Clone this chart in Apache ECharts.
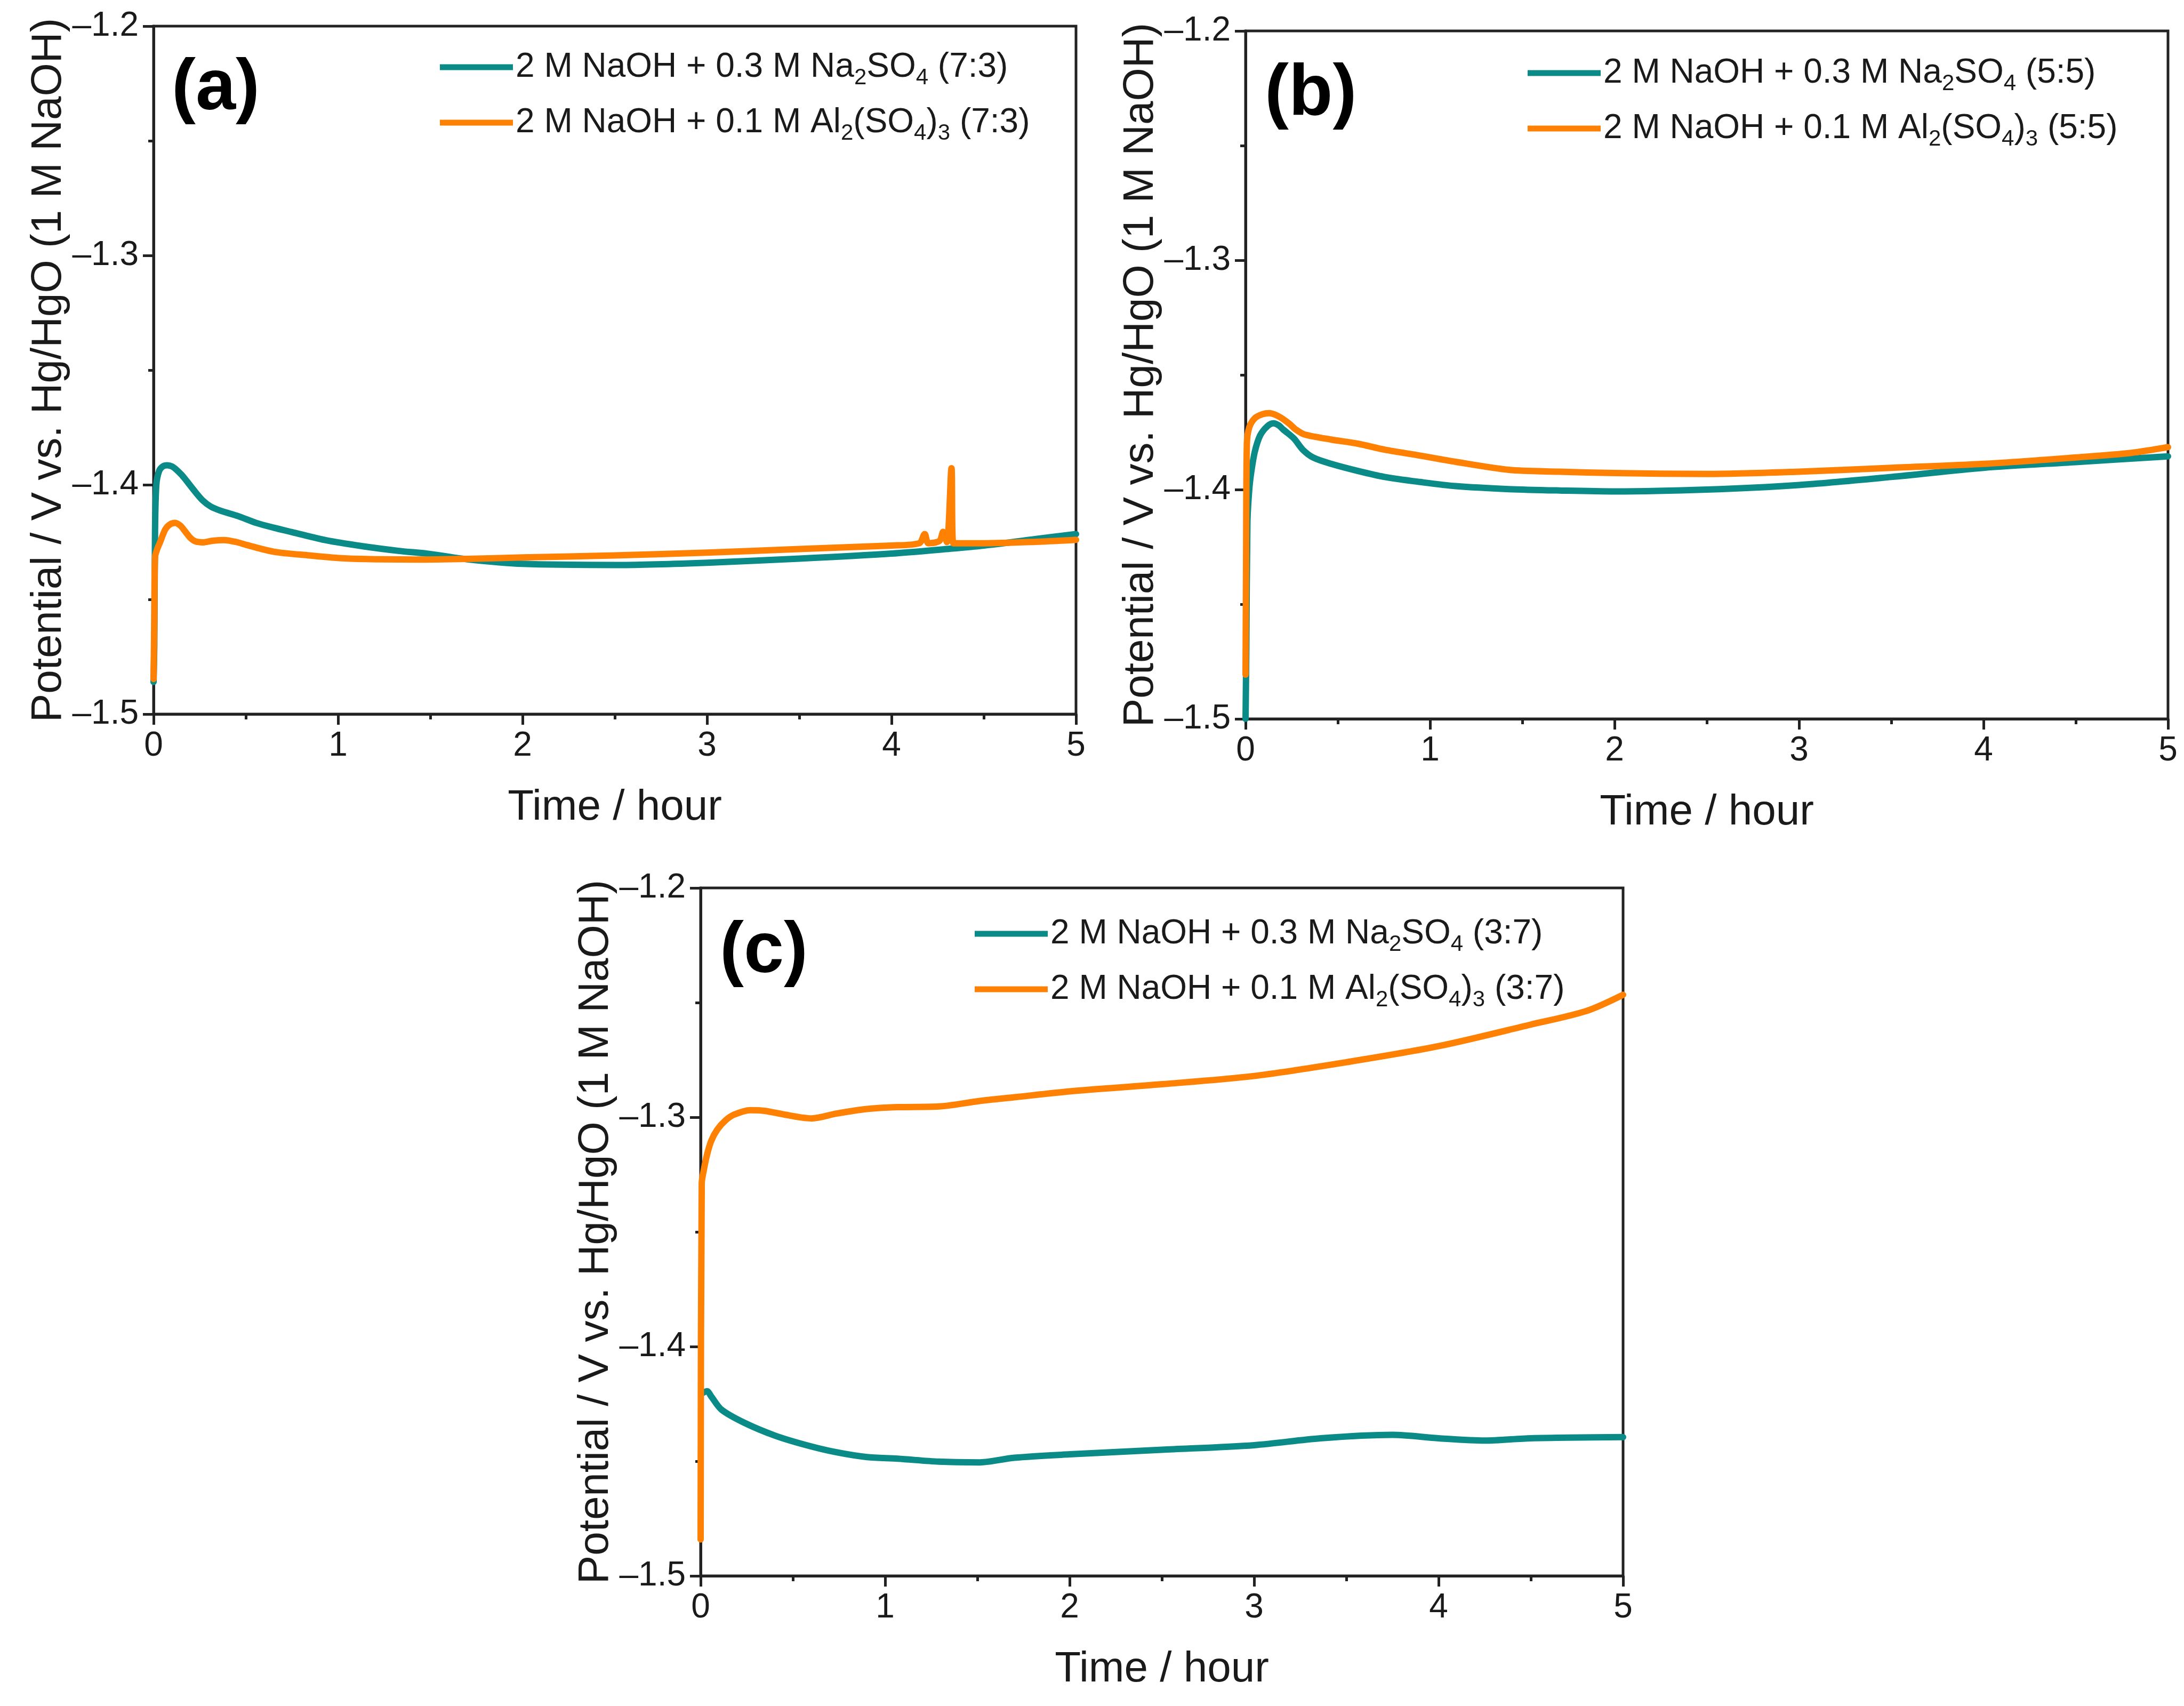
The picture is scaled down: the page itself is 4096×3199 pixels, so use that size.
<!DOCTYPE html>
<html>
<head>
<meta charset="utf-8">
<script src="https://cdn.jsdelivr.net/npm/echarts@6/dist/echarts.min.js"></script>
<style>
  html, body { margin: 0; padding: 0; background: #fff; }
  #chart { width: 4096px; height: 3199px; }
</style>
</head>
<body>
<div id="chart"></div>
<script>
// series names (subscripts are added by the legend formatter)
const namesA = ['2 M NaOH + 0.3 M Na2SO4 (7:3)', '2 M NaOH + 0.1 M Al2(SO4)3 (7:3)'];
const namesB = ['2 M NaOH + 0.3 M Na2SO4 (5:5)', '2 M NaOH + 0.1 M Al2(SO4)3 (5:5)'];
const namesC = ['2 M NaOH + 0.3 M Na2SO4 (3:7)', '2 M NaOH + 0.1 M Al2(SO4)3 (3:7)'];

// [time / hour, potential / V]
const naSO4_73 = [[0, -1.486], [0.004, -1.470], [0.008, -1.42], [0.015, -1.400], [0.03, -1.394], [0.05, -1.392],
  [0.075, -1.3915], [0.1, -1.392], [0.122, -1.3933], [0.15, -1.3955], [0.17, -1.3974], [0.218, -1.4023],
  [0.266, -1.4068], [0.31, -1.4095], [0.363, -1.4113], [0.459, -1.4137], [0.555, -1.4166], [0.65, -1.4187],
  [0.748, -1.4206], [0.94, -1.4243], [1.133, -1.4268], [1.326, -1.4288], [1.5, -1.4302], [1.7, -1.4325],
  [2.0, -1.4345], [2.5, -1.435], [3.0, -1.434], [3.5, -1.4322], [4.0, -1.430], [4.3, -1.428], [4.5, -1.4265],
  [4.8, -1.4235], [5.0, -1.4215]];
const alSO4_73 = [[0, -1.4847], [0.004, -1.46], [0.008, -1.4316], [0.02, -1.428], [0.035, -1.4251], [0.064, -1.4194],
  [0.09, -1.4172], [0.117, -1.4166], [0.145, -1.4178], [0.17, -1.4202], [0.2, -1.4232], [0.227, -1.4247],
  [0.266, -1.4251], [0.32, -1.4244], [0.382, -1.4241], [0.45, -1.425], [0.507, -1.4263], [0.652, -1.4292],
  [0.844, -1.4308], [1.036, -1.4321], [1.229, -1.4325], [1.42, -1.4326], [1.7, -1.4323], [2.0, -1.4317],
  [2.5, -1.4308], [3.0, -1.4296], [3.5, -1.428], [4.0, -1.4265], [4.15, -1.4255], [4.18, -1.4215], [4.2, -1.4255],
  [4.26, -1.4245], [4.28, -1.4205], [4.3, -1.425], [4.325, -1.3928], [4.335, -1.4255], [4.5, -1.4255],
  [4.8, -1.4248], [5.0, -1.424]];

const naSO4_55 = [[0, -1.5], [0.004, -1.47], [0.01, -1.4144], [0.02, -1.400], [0.031, -1.3923], [0.05, -1.3835],
  [0.079, -1.3764], [0.118, -1.3724], [0.151, -1.3711], [0.18, -1.372], [0.204, -1.3738], [0.262, -1.3777],
  [0.31, -1.3826], [0.368, -1.3861], [0.464, -1.3888], [0.609, -1.3919], [0.753, -1.3945], [0.946, -1.3967],
  [1.139, -1.3985], [1.428, -1.3998], [1.7, -1.4004], [2.0, -1.4008], [2.5, -1.400], [3.0, -1.398],
  [3.5, -1.3945], [4.0, -1.3905], [4.5, -1.388], [5.0, -1.3855]];
const alSO4_55 = [[0, -1.4807], [0.003, -1.43], [0.007, -1.38], [0.02, -1.3729], [0.05, -1.3689], [0.09, -1.3672],
  [0.127, -1.3667], [0.165, -1.3675], [0.204, -1.3693], [0.24, -1.3715], [0.272, -1.3738], [0.32, -1.376],
  [0.464, -1.3782], [0.609, -1.380], [0.753, -1.3826], [0.946, -1.3852], [1.139, -1.3879], [1.428, -1.3914],
  [1.7, -1.3922], [2.0, -1.3928], [2.5, -1.3932], [3.0, -1.3922], [3.5, -1.3905], [4.0, -1.3888],
  [4.5, -1.386], [4.8, -1.384], [5.0, -1.3815]];

const naSO4_37 = [[0.012, -1.4202], [0.035, -1.4195], [0.058, -1.4218], [0.113, -1.4275], [0.236, -1.4332],
  [0.402, -1.4388], [0.569, -1.4429], [0.736, -1.4461], [0.902, -1.4482], [1.069, -1.4489], [1.291, -1.4502],
  [1.513, -1.4505], [1.7, -1.4485], [2.0, -1.447], [2.5, -1.445], [3.0, -1.443], [3.36, -1.440], [3.75, -1.4385],
  [4.0, -1.440], [4.25, -1.441], [4.5, -1.440], [5.0, -1.4395]];
const alSO4_37 = [[0, -1.4841], [0.006, -1.3288], [0.019, -1.3223], [0.036, -1.3159], [0.058, -1.3102],
  [0.091, -1.3053], [0.136, -1.3013], [0.18, -1.2989], [0.269, -1.2969], [0.347, -1.2972], [0.458, -1.2989],
  [0.602, -1.3005], [0.736, -1.2984], [0.902, -1.2964], [1.069, -1.2956], [1.291, -1.2953], [1.513, -1.2929],
  [1.7, -1.2913], [2.0, -1.2887], [2.5, -1.2856], [3.0, -1.282], [3.5, -1.276], [4.0, -1.269], [4.5, -1.2596],
  [4.8, -1.2537], [5.0, -1.2466]];

const panelLabels = ['(a)', '(b)', '(c)'];
const xTitle = 'Time / hour';
const yTitle = 'Potential / V vs. Hg/HgO (1 M NaOH)';

const TEAL = '#0b8b88';
const ORANGE = '#ff8103';
const INK = '#1a1a1a';
const FONT = '"Liberation Sans", Arial, sans-serif';

// layout in px
const panels = [
    { x: 288,  y: 49,   legendX: 825,  legendY: 85,   labelX: 322,  labelY: 100,  names: namesA, data: [naSO4_73, alSO4_73] },
    { x: 2336, y: 58,   legendX: 2865, legendY: 96,   labelX: 2372, labelY: 110,  names: namesB, data: [naSO4_55, alSO4_55] },
    { x: 1314, y: 1665, legendX: 1828, legendY: 1710, labelX: 1350, labelY: 1718, names: namesC, data: [naSO4_37, alSO4_37] }
];
const W = 1730, H = 1290;

function richName(name){
    return name.replace('Na2SO4', 'Na{s|2}SO{s|4}').replace('Al2(SO4)3', 'Al{s|2}(SO{s|4}){s|3}');
}

let chart = echarts.init(document.getElementById('chart'), null, { renderer: 'canvas' });

let option = {
    backgroundColor: '#fff',
    animation: false,
    textStyle: { fontFamily: FONT },
    title: panels.map((p, i) => ({
        text: panelLabels[i], left: p.labelX, top: p.labelY, padding: 0,
        textStyle: { fontSize: 135, fontWeight: 'bold', color: '#000', fontFamily: FONT }
    })),
    legend: panels.map(p => ({
        orient: 'vertical', left: p.legendX, top: p.legendY, padding: 0, itemGap: 22,
        itemWidth: 137, itemHeight: 11, icon: 'rect',
        data: p.names,
        formatter: richName,
        textStyle: {
            fontSize: 64, color: INK, fontFamily: FONT, lineHeight: 82,
            rich: { s: { fontSize: 42, color: INK, fontFamily: FONT, verticalAlign: 'bottom', lineHeight: 82 } }
        }
    })),
    grid: panels.map(p => ({
        left: p.x, top: p.y, width: W, height: H,
        show: true, borderColor: '#222', borderWidth: 5, backgroundColor: 'transparent'
    })),
    xAxis: panels.map((p, i) => ({
        gridIndex: i, type: 'value', min: 0, max: 5, interval: 1,
        name: xTitle, nameLocation: 'middle', nameGap: 136,
        nameTextStyle: { fontSize: 80, color: INK, fontFamily: FONT },
        axisLine: { onZero: false, lineStyle: { color: '#222', width: 5 } },
        axisTick: { length: 20, lineStyle: { color: '#222', width: 5 } },
        minorTick: { show: true, splitNumber: 2, length: 10, lineStyle: { color: '#222', width: 5 } },
        axisLabel: { fontSize: 64, margin: 28, color: INK, fontFamily: FONT },
        splitLine: { show: false }
    })),
    yAxis: panels.map((p, i) => ({
        gridIndex: i, type: 'value', min: -1.5, max: -1.2, interval: 0.1,
        name: yTitle, nameLocation: 'middle', nameGap: 150,
        nameTextStyle: { fontSize: 80, color: INK, fontFamily: FONT },
        axisLine: { onZero: false, lineStyle: { color: '#222', width: 5 } },
        axisTick: { length: 20, lineStyle: { color: '#222', width: 5 } },
        minorTick: { show: true, splitNumber: 2, length: 10, lineStyle: { color: '#222', width: 5 } },
        axisLabel: {
            fontSize: 64, margin: 28, color: INK, fontFamily: FONT,
            formatter: v => v.toFixed(1).replace('-', '\u2013')
        },
        splitLine: { show: false }
    })),
    series: []
};

panels.forEach((p, i) => {
    [TEAL, ORANGE].forEach((c, k) => {
        option.series.push({
            name: p.names[k], type: 'line', xAxisIndex: i, yAxisIndex: i,
            data: p.data[k], color: c,
            showSymbol: false, symbol: 'none', smooth: 0.3,
            lineStyle: { color: c, width: 12, cap: 'round', join: 'round' },
            z: 3 + k
        });
    });
});

chart.setOption(option);
</script>
</body>
</html>
